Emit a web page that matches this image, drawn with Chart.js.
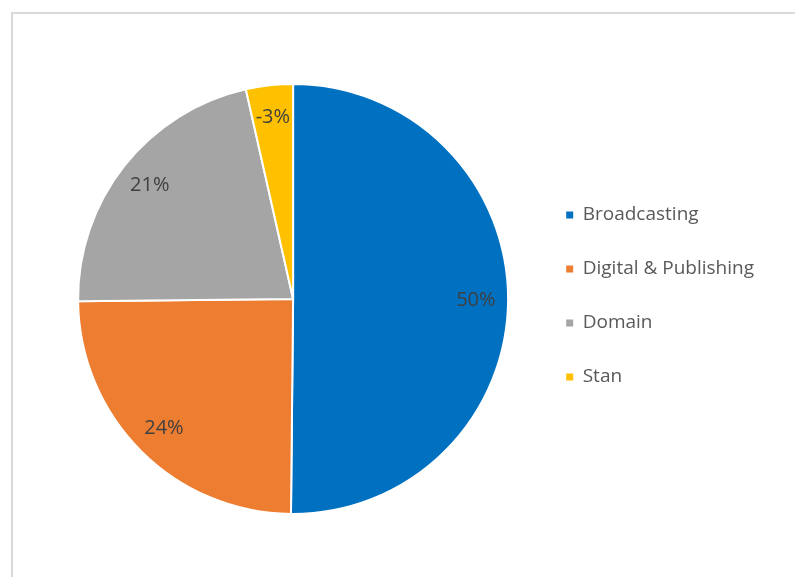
<!DOCTYPE html>
<html>
<head>
<meta charset="utf-8">
<title>Revenue share by segment</title>
<script src="https://cdn.jsdelivr.net/npm/chart.js@4.4.1/dist/chart.umd.min.js"></script>
<style>
  html, body { margin: 0; padding: 0; background: #fff; overflow: hidden; }
  #frame { position: absolute; left: 11px; top: 12px; width: 820px; height: 600px; border: 2px solid #d9d9d9; }
  #wrap { position: absolute; left: 0; top: 0; width: 795px; height: 577px; }
</style>
</head>
<body>
<div id="frame"></div>
<div id="wrap"><canvas id="pieChart" width="795" height="577"></canvas></div>
<script>
// segment shares (%), Stan is a loss
const segments = ['Broadcasting', 'Digital & Publishing', 'Domain', 'Stan'];
const shares = [49.6, 24.4, 21.4, -3.49];
const sliceColors = ['#0070C0', '#ED7D31', '#A5A5A5', '#FFC000'];

// percent labels inside each slice
const sliceLabels = {
  id: 'sliceLabels',
  afterDatasetsDraw(chart) {
    const ctx = chart.ctx;
    const meta = chart.getDatasetMeta(0);
    ctx.save();
    ctx.font = '20px "Open Sans"';
    ctx.fillStyle = '#404040';
    ctx.textAlign = 'center';
    ctx.textBaseline = 'middle';
    meta.data.forEach((arc, i) => {
      const p = arc.getProps(['x', 'y', 'startAngle', 'endAngle', 'outerRadius']);
      const mid = (p.startAngle + p.endAngle) / 2;
      const r = p.outerRadius * 0.85;
      ctx.fillText(Math.round(shares[i]) + '%', p.x + Math.cos(mid) * r, p.y + Math.sin(mid) * r);
    });
    ctx.restore();
  }
};

// lift the legend column a little above the pie's centre line
const legendNudge = {
  id: 'legendNudge',
  afterLayout(chart) {
    chart.legend.top -= 3;
    chart.legend.bottom -= 3;
  }
};

const ctx = document.getElementById('pieChart').getContext('2d');
new Chart(ctx, {
  type: 'pie',
  data: {
    labels: segments,
    datasets: [{
      data: shares,
      backgroundColor: sliceColors,
      borderColor: '#ffffff',
      borderWidth: 2
    }]
  },
  options: {
    responsive: false,
    animation: false,
    layout: { padding: { left: 55, right: 31, top: 83, bottom: 62 } },
    plugins: {
      tooltip: { enabled: false },
      legend: {
        position: 'right',
        labels: {
          boxWidth: 7,
          boxHeight: 7,
          padding: 35,
          color: '#595959',
          font: { family: '"Open Sans"', size: 19 },
          generateLabels(chart) {
            const items = Chart.overrides.pie.plugins.legend.labels.generateLabels(chart);
            return items.map(it => Object.assign(it, { lineWidth: 0 }));
          }
        }
      }
    }
  },
  plugins: [sliceLabels, legendNudge]
});
</script>
</body>
</html>
